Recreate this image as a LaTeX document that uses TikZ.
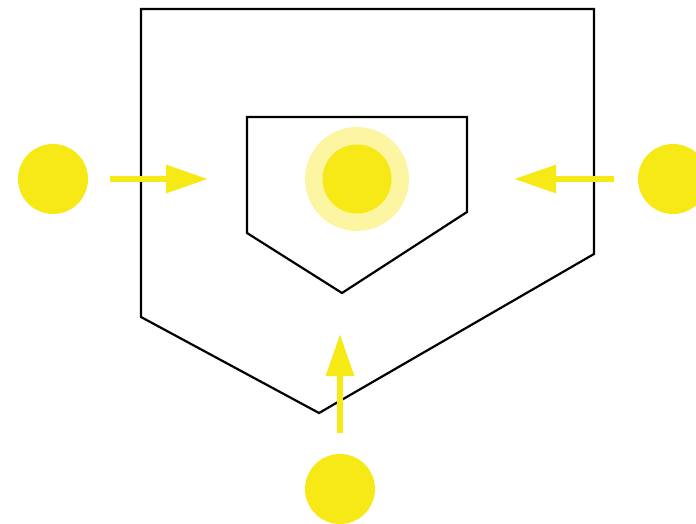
\documentclass[tikz,border=0pt]{standalone}
\usetikzlibrary{arrows.meta}
\definecolor{yel}{HTML}{F6E915}
\definecolor{halo}{HTML}{FCF5A2}
\tikzset{
  outline/.style={draw=black, line width=2.2pt, line join=miter},
  dot/.style={circle, fill=yel, minimum size=70pt, inner sep=0pt},
  feed/.style={draw=yel, line width=6pt, -{Triangle[length=42pt, width=27pt]}, shorten >=0pt}
}
\begin{document}
\begin{tikzpicture}[x=1pt, y=-1pt]
\useasboundingbox (0,0) rectangle (696,524);
\clip (0,0) rectangle (696,524);
\draw[outline] (141,9) -- (594,9) -- (594,254) -- (319,413) -- (141,317) -- cycle;
\draw[outline] (247,117) -- (467,117) -- (467,212) -- (342,293) -- (247,233) -- cycle;
\node[circle, fill=halo, minimum size=104pt, inner sep=0pt] (halo) at (357,179) {};
\node[dot, minimum size=69pt] (center) at (357,179) {};
\node[dot] (left) at (53,179) {};
\node[dot] (right) at (673,179) {};
\node[dot] (bottom) at (340,489) {};
\coordinate (lt) at (208,179);
\coordinate (rt) at (514,179);
\coordinate (bt) at (340,334);
\coordinate (ls) at (110,179);
\coordinate (rs) at (614,179);
\coordinate (bs) at (340,433);
\draw[feed] (ls) -- (lt);
\draw[feed] (rs) -- (rt);
\draw[feed] (bs) -- (bt);
\end{tikzpicture}
\end{document}
